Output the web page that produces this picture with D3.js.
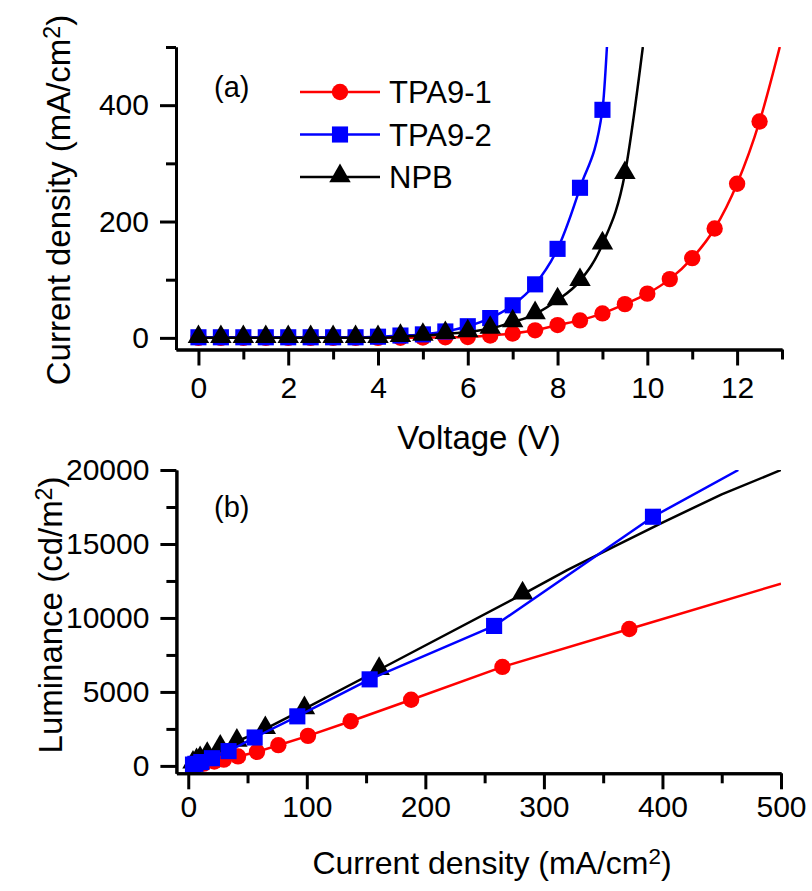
<!DOCTYPE html>
<meta charset="utf-8">
<style>
  body { margin: 0; background: #fff; }
  svg text { font-family: "Liberation Sans", Arial, sans-serif; fill: #000; }
</style>
<svg width="812" height="891" id="chart"></svg>
<script src="https://cdn.jsdelivr.net/npm/d3@7"></script>
<script>

// ---- panel (a): current density vs voltage ----
var voltage = [0,0.5,1,1.5,2,2.5,3,3.5,4,4.5,5,5.5,6,6.5,7,7.5,8,8.5,9,9.5,10,10.5,11,11.5,12,12.5];
var jTPA1 = [0,0,0,0,0,0,0,0,0,0.2,0.5,1,1.5,4,7.5,13,22,30,42,58,76,101,137,188,265,372];
var jTPA2 = [1,1,1,1,1,1,1,1,2,4,6,11,20,34,56,92,153,258,392];
var jNPB  = [0,0,0,0,0,0,0,0,0,2,4,7,10,16,27,41,65,98,161,282];
// where each fitted line leaves the top of the plot
var tailV = [12.95, 9.1, 9.9];
var tailJ = [500, 500, 500];

// ---- panel (b): luminance vs current density ----
var bJ_TPA1 = [4,7.5,13,22,30,42,58,76,101,137,188,265,372];
var bL_TPA1 = [40,80,150,300,420,640,950,1400,2030,3020,4470,6690,9250];
var bJ_TPA2 = [4,6,11,20,34,56,92,153,258,392];
var bL_TPA2 = [90,140,260,520,1000,1920,3350,5850,9460,16840];
var bJ_NPB  = [4,7,10,16,27,41,65,98,161,282];
var bL_NPB  = [170,330,480,760,1250,1650,2500,3850,6500,11600];
// line-only continuations past the last marker
var tailJ_TPA1 = [500],                   tailL_TPA1 = [12320];
var tailJ_TPA2 = [464],                   tailL_TPA2 = [20000];
var tailJ_NPB  = [320,360,400,450,500],   tailL_NPB  = [13250,14850,16450,18350,20000];

var names  = ["TPA9-1","TPA9-2","NPB"];
var colors = ["#ff0000","#0000ff","#000000"];
var shapes = [d3.symbolCircle, d3.symbolSquare, d3.symbolTriangle];
var sizes  = [210, 260, 200];

var svg = d3.select("#chart");

function zip(a, b){ return a.map(function(d,i){ return [d, b[i]]; }); }

function drawAxes(g, x, y, xMaj, xMin, yMaj, yMin, padX){
  var x0 = x.range()[0], y0 = y.range()[0];
  g.append("g").attr("transform","translate(0,"+y0+")")
    .call(d3.axisBottom(x).tickValues(xMin).tickSize(10).tickSizeOuter(0).tickFormat(""))
    .call(styleAxis);
  g.append("g").attr("transform","translate(0,"+y0+")")
    .call(d3.axisBottom(x).tickValues(xMaj).tickSize(16).tickSizeOuter(0).tickPadding(padX).tickFormat(d3.format("d")))
    .call(styleAxis);
  g.append("g").attr("transform","translate("+x0+",0)")
    .call(d3.axisLeft(y).tickValues(yMin).tickSize(10).tickSizeOuter(0).tickFormat(""))
    .call(styleAxis);
  g.append("g").attr("transform","translate("+x0+",0)")
    .call(d3.axisLeft(y).tickValues(yMaj).tickSize(16).tickSizeOuter(0).tickPadding(11).tickFormat(d3.format("d")))
    .call(styleAxis);
}

function styleAxis(a){
  a.select(".domain").attr("stroke","#000").attr("stroke-width",3);
  a.selectAll(".tick line").attr("stroke","#000").attr("stroke-width",3);
  a.selectAll(".tick text").attr("font-size",30).attr("font-family","Liberation Sans, Arial, sans-serif").attr("fill","#000");
}

function drawSeries(g, x, y, pts, linePts, k, clipId, curve){
  var line = d3.line().x(function(d){ return x(d[0]); }).y(function(d){ return y(d[1]); })
    .curve(curve);
  g.append("path").attr("d", line(linePts))
    .attr("fill","none").attr("stroke",colors[k]).attr("stroke-width",2.5)
    .attr("stroke-linejoin","round")
    .attr("clip-path","url(#"+clipId+")");
  g.selectAll(".m"+k).data(pts).enter().append("path")
    .attr("class","m"+k)
    .attr("transform", function(d){
      var dy = shapes[k] === d3.symbolTriangle ? -1 : 0;
      return "translate("+x(d[0])+","+(y(d[1])+dy)+")";
    })
    .attr("d", d3.symbol().type(shapes[k]).size(sizes[k]))
    .attr("fill", colors[k]);
}

function addClip(id, x, y){
  svg.append("clipPath").attr("id",id).append("rect")
    .attr("x", x.range()[0]).attr("y", y.range()[1])
    .attr("width", x.range()[1]-x.range()[0]).attr("height", y.range()[0]-y.range()[1]);
}

function superTitle(g, str, fs){
  var t = g.append("text").attr("text-anchor","middle").attr("font-size",fs);
  t.append("tspan").text(str);
  t.append("tspan").attr("dy","-0.45em").attr("font-size","0.7em").text("2");
  t.append("tspan").attr("dy","0.315em").text(")");
  return t;
}

// ---------- panel (a) ----------
var xa = d3.scaleLinear().domain([-0.5, 13]).range([176, 782]);
var ya = d3.scaleLinear().domain([-20, 500]).range([349.5, 47]);
addClip("clipA", xa, ya);
var ga = svg.append("g");

var seriesA = [jTPA1, jTPA2, jNPB];
[0,1,2].forEach(function(k){
  var pts = zip(voltage.slice(0, seriesA[k].length), seriesA[k]);
  drawSeries(ga, xa, ya, pts, pts.concat([[tailV[k], tailJ[k]]]), k, "clipA", d3.curveMonotoneX);
});

drawAxes(ga, xa, ya, [0,2,4,6,8,10,12], [1,3,5,7,9,11,13], [0,200,400], [100,300,500], 11);

ga.append("text").attr("x",214).attr("y",97).attr("font-size",29).text("(a)");

// legend
names.forEach(function(n,k){
  var yy = 92 + k*42.5;
  ga.append("line").attr("x1",300).attr("x2",380).attr("y1",yy).attr("y2",yy)
    .attr("stroke",colors[k]).attr("stroke-width",2.5);
  ga.append("path").attr("transform","translate(340,"+(yy-(k==2?1:0))+")")
    .attr("d", d3.symbol().type(shapes[k]).size(sizes[k])).attr("fill",colors[k]);
  ga.append("text").attr("x",389).attr("y",yy+11).attr("font-size",31).text(n);
});

ga.append("text").attr("x",479).attr("y",449).attr("text-anchor","middle")
  .attr("font-size",33).text("Voltage (V)");

superTitle(ga, "Current density (mA/cm", 33).attr("transform","translate(70,200) rotate(-90)");

// ---------- panel (b) ----------
var xb = d3.scaleLinear().domain([-10, 500]).range([176.4, 781]);
var yb = d3.scaleLinear().domain([-500, 20000]).range([773.3, 470]);
addClip("clipB", xb, yb);
var gb = svg.append("g");

var bPts   = [zip(bJ_TPA1,bL_TPA1), zip(bJ_TPA2,bL_TPA2), zip(bJ_NPB,bL_NPB)];
var bTails = [zip(tailJ_TPA1,tailL_TPA1), zip(tailJ_TPA2,tailL_TPA2), zip(tailJ_NPB,tailL_NPB)];
[0,2,1].forEach(function(k){
  var linePts = [[0,0]].concat(bPts[k], bTails[k]);
  drawSeries(gb, xb, yb, bPts[k], linePts, k, "clipB", d3.curveLinear);
});

drawAxes(gb, xb, yb, [0,100,200,300,400,500], [50,150,250,350,450],
  [0,5000,10000,15000,20000], [2500,7500,12500,17500], 6);

gb.append("text").attr("x",214).attr("y",517).attr("font-size",29).text("(b)");

superTitle(gb, "Current density (mA/cm", 32).attr("x",492).attr("y",874);

superTitle(gb, "Luminance (cd/m", 33).attr("transform","translate(62,615) rotate(-90)");

</script>
